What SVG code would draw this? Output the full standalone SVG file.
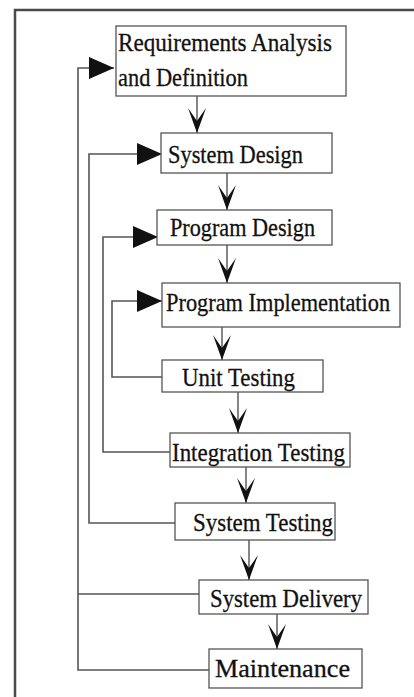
<svg xmlns="http://www.w3.org/2000/svg" width="414" height="697" viewBox="0 0 414 697">
<style>
.box{fill:#fff;stroke:#555;stroke-width:1.3}
.lbl{font-family:"Liberation Serif","Times New Roman",serif;font-size:26px;fill:#111;stroke:#111;stroke-width:0.3}
.fb{fill:none;stroke:#555;stroke-width:1.6}
.dn{fill:none;stroke:#444;stroke-width:1.3}
.frame{fill:none;stroke:#4a4a4a;stroke-width:2.5}
</style>
<defs>
<marker id="stealth" markerUnits="userSpaceOnUse" viewBox="-27 -10 28 20" markerWidth="28" markerHeight="20" refX="0" refY="0" orient="auto">
<path d="M0,0 L-25,-9 L-12,0 L-25,9 Z" fill="#111"/>
</marker>
<marker id="tri" markerUnits="userSpaceOnUse" viewBox="-26 -12 27 24" markerWidth="27" markerHeight="24" refX="0" refY="0" orient="auto">
<path d="M0,0 L-25,-11 L-25,11 Z" fill="#111"/>
</marker>
</defs>
<rect x="0" y="0" width="414" height="697" fill="#fff"/>
<path class="frame" d="M15,697 V10 H414"/>
<g id="connectors">
<path class="dn" d="M197,96 V133" marker-end="url(#stealth)"/>
<path class="dn" d="M227,173 V210" marker-end="url(#stealth)"/>
<path class="dn" d="M227,245 V283" marker-end="url(#stealth)"/>
<path class="dn" d="M222,327 V360" marker-end="url(#stealth)"/>
<path class="dn" d="M238,392 V433" marker-end="url(#stealth)"/>
<path class="dn" d="M246,467 V503" marker-end="url(#stealth)"/>
<path class="dn" d="M249,540 V580" marker-end="url(#stealth)"/>
<path class="dn" d="M277,614 V649" marker-end="url(#stealth)"/>
<path class="fb" d="M209,670 H78 V68 H114" marker-end="url(#tri)"/>
<path class="fb" d="M199,594 H78"/>
<path class="fb" d="M175,523 H89 V154 H162" marker-end="url(#tri)"/>
<path class="fb" d="M170,452 H103 V237 H158" marker-end="url(#tri)"/>
<path class="fb" d="M162,377 H112 V301 H162" marker-end="url(#tri)"/>
</g>
<g id="req">
<rect class="box" x="116" y="26" width="230" height="70"/>
<text class="lbl" x="118" y="51" textLength="214" lengthAdjust="spacingAndGlyphs">Requirements Analysis</text>
<text class="lbl" x="118" y="86" textLength="130" lengthAdjust="spacingAndGlyphs">and Definition</text>
</g>
<g id="sysdesign">
<rect class="box" x="161" y="133" width="171" height="40"/>
<text class="lbl" x="168" y="163" textLength="135" lengthAdjust="spacingAndGlyphs">System Design</text>
</g>
<g id="progdesign">
<rect class="box" x="157" y="210" width="175" height="35"/>
<text class="lbl" x="170" y="236" textLength="145" lengthAdjust="spacingAndGlyphs">Program Design</text>
</g>
<g id="progimpl">
<rect class="box" x="162" y="283" width="238" height="44"/>
<text class="lbl" transform="translate(166,311) scale(0.862,1)" x="0" y="0" textLength="260" lengthAdjust="spacingAndGlyphs">Program Implementation</text>
</g>
<g id="unittest">
<rect class="box" x="162" y="360" width="161" height="32"/>
<text class="lbl" x="182" y="386" textLength="113" lengthAdjust="spacingAndGlyphs">Unit Testing</text>
</g>
<g id="inttest">
<rect class="box" x="170" y="433" width="180" height="34"/>
<text class="lbl" x="172" y="461" textLength="173" lengthAdjust="spacingAndGlyphs">Integration Testing</text>
</g>
<g id="systest">
<rect class="box" x="175" y="503" width="160" height="37"/>
<text class="lbl" x="193" y="531" textLength="140" lengthAdjust="spacingAndGlyphs">System Testing</text>
</g>
<g id="sysdelivery">
<rect class="box" x="199" y="580" width="169" height="34"/>
<text class="lbl" x="210" y="607" textLength="152" lengthAdjust="spacingAndGlyphs">System Delivery</text>
</g>
<g id="maint">
<rect class="box" x="209" y="649" width="153" height="39"/>
<text class="lbl" x="215" y="677" textLength="135" lengthAdjust="spacingAndGlyphs">Maintenance</text>
</g>
</svg>
